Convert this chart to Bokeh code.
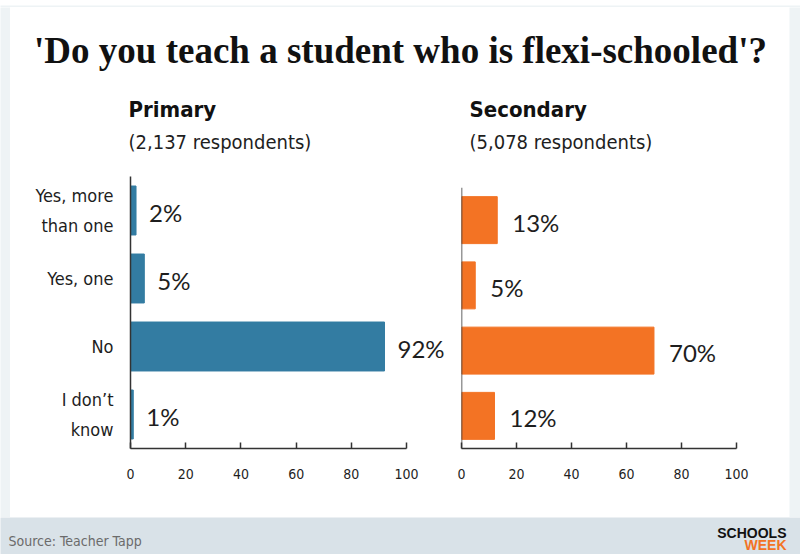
from bokeh.plotting import figure
from bokeh.models import Range1d, FactorRange, ColumnDataSource, LabelSet, Span
from bokeh.layouts import column, row
from bokeh.embed import file_html
from bokeh.resources import INLINE
from bokeh.core.properties import value

# ---- data ----
TITLE = "'Do you teach a student who is flexi-schooled'?"
categories = ["Yes, more\nthan one", "Yes, one", "No", "I don\u2019t\nknow"]
primary_values = [2, 5, 92, 1]
secondary_values = [13, 5, 70, 12]
panel_names = ["Primary", "Secondary"]
panel_counts = ["(2,137 respondents)", "(5,078 respondents)"]
x_ticks = [0, 20, 40, 60, 80, 100]
source_text = "Source: Teacher Tapp"
logo_words = ["SCHOOLS", "WEEK"]

BLUE = "#337ca2"
ORANGE = "#f37324"
INK = "#1e1e1e"
COND = "'DejaVu Sans Condensed', 'Liberation Sans Narrow', Roboto"
FOOTER_BG = "#d9e2e8"
OUTER_BG = "#eef3f5"


def blank(width, height, bg="white"):
    p = figure(width=width, height=height, x_range=Range1d(0, width),
               y_range=Range1d(height, 0), x_axis_type=None, y_axis_type=None,
               title=None, output_backend="svg", toolbar_location=None,
               min_border=0)
    p.xgrid.visible = False
    p.ygrid.visible = False
    p.outline_line_color = None
    p.background_fill_color = bg
    p.border_fill_color = bg
    return p


# ---- header (page x 10..789, y 7..160) ----
header = blank(779, 153)
header.text(x=[390], y=[43], text=[TITLE], text_align="center",
            text_baseline="middle", text_font=value("Liberation Serif"),
            text_font_style="bold", text_font_size="37px", text_color="#111111")
header.text(x=[118, 459], y=[102, 102], text=panel_names, text_align="left",
            text_baseline="middle", text_font=value(COND),
            text_font_style="bold", text_font_size="22px", text_color="#111111")
header.text(x=[118, 459], y=[134, 134], text=panel_counts, text_align="left",
            text_baseline="middle", text_font=value(COND),
            text_font_size="20px", text_color=INK)


def panel(values, color, width, height, mb_left, mb_right, x_end, show_cats, offset):
    p = figure(width=width, height=height, title=None,
               y_range=FactorRange(factors=categories[::-1]),
               x_range=Range1d(0, x_end),
               y_axis_location="left" if show_cats else None,
               output_backend="svg", toolbar_location=None,
               min_border_left=mb_left, min_border_right=mb_right,
               min_border_top=16, min_border_bottom=69)
    src = ColumnDataSource(dict(cat=categories, val=values,
                                lab=[f"{v}%" for v in values]))
    p.hbar(y="cat", left=0, right="val", height=0.72, color=color, source=src)
    p.add_layout(LabelSet(x="val", y="cat", text="lab", source=src,
                          x_offset=offset, y_offset=-2, text_baseline="middle",
                          text_font=value("Lato"), text_font_size="24px",
                          text_color=INK))
    p.xgrid.visible = False
    p.ygrid.visible = False
    p.outline_line_color = None
    p.background_fill_color = "white"
    p.border_fill_color = "white"

    xa = p.xaxis[0]
    xa.ticker = x_ticks
    xa.bounds = (0, 100)
    xa.major_tick_in = 6
    xa.major_tick_out = 0
    xa.minor_tick_line_color = None
    xa.axis_line_color = "#333333"
    xa.axis_line_width = 1.5
    xa.major_tick_line_color = "#333333"
    xa.major_tick_line_width = 1.5
    xa.major_label_standoff = 20
    xa.major_label_text_font = COND
    xa.major_label_text_font_size = "14px"
    xa.major_label_text_color = INK

    if show_cats:
        ya = p.yaxis[0]
        ya.major_tick_in = 0
        ya.major_tick_out = 0
        ya.minor_tick_line_color = None
        ya.axis_line_color = "#333333"
        ya.axis_line_width = 1.5
        ya.major_label_standoff = 17
        ya.major_label_text_font = COND
        ya.major_label_text_font_size = "18px"
        ya.major_label_text_color = INK
        ya.major_label_text_line_height = 1.43
    else:
        p.add_layout(Span(location=0, dimension="height",
                          line_color="#333333", line_width=1.5))
    return p


# panels: page y 160..517 (left frame 176..448, right frame 187..448)
left = panel(primary_values, BLUE, 440, 357, 120, 0, 115.9, True, 13)
right_fig = panel(secondary_values, ORANGE, 339, 346, 11, 14, 114.2, False, 15)
right = column(blank(339, 11), right_fig, spacing=0)

middle = row(blank(10, 510, OUTER_BG),
             column(header, row(left, right, spacing=0), spacing=0),
             blank(11, 510, OUTER_BG), spacing=0)

# ---- footer (page y 517..554) ----
footer = blank(800, 37, FOOTER_BG)
footer.text(x=[8], y=[23.5], text=[source_text], text_align="left",
            text_baseline="middle", text_font=value(COND),
            text_font_size="14px", text_color="#6b6b6b")
footer.text(x=[786], y=[15], text=[logo_words[0]], text_align="right",
            text_baseline="middle", text_font=value("Liberation Sans"),
            text_font_style="bold", text_font_size="14px", text_color="#111111")
footer.text(x=[786], y=[27], text=[logo_words[1]], text_align="right",
            text_baseline="middle", text_font=value("Liberation Sans"),
            text_font_style="bold", text_font_size="14px", text_color=ORANGE)

page = column(blank(800, 7, OUTER_BG), middle, footer,
              blank(800, 3, OUTER_BG), spacing=0)

open("out.html", "w").write(file_html(page, INLINE))
